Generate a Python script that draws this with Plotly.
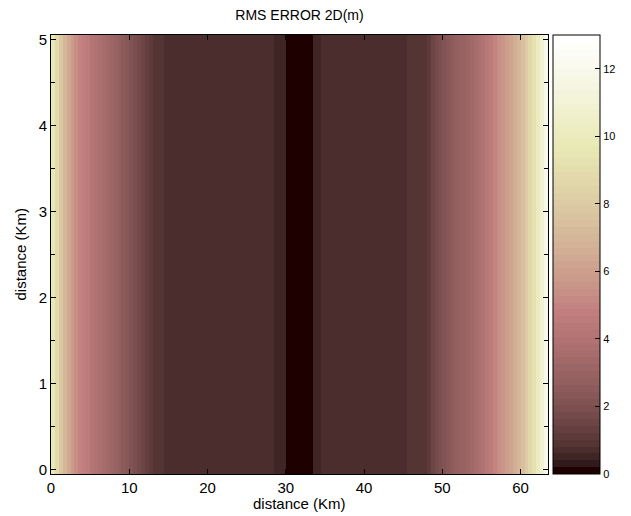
import numpy as np
import plotly.graph_objects as go

# ---- data ----
x_step_km = 0.5
y_km = [round(0.1 * i, 1) for i in range(51)]          # row centres 0..5 km
profile_left = [9.6, 8.8, 7.8, 7.0, 6.3, 5.8, 5.3, 5.0, 4.7, 4.5, 4.2, 4.0, 3.7, 3.5, 3.3,
                3.1, 2.9, 2.7, 2.6, 2.4, 2.2, 1.95, 1.7, 1.45, 1.25, 1.05, 0.95, 0.88, 0.85, 0.8]
profile_mid_left = [0.75, 0.72, 0.78, 0.7, 0.74, 0.68, 0.76, 0.72, 0.7, 0.75, 0.69, 0.73, 0.71,
                    0.77, 0.7, 0.72, 0.68, 0.74, 0.7, 0.73, 0.71, 0.69, 0.75, 0.7, 0.72, 0.68, 0.66]
profile_inner_left = [0.55, 0.5, 0.45]
profile_centre = [0.1, 0.1, 0.12, 0.1, 0.1, 0.12, 0.1]
profile_inner_right = [0.45, 0.55]
profile_mid_right = [0.7, 0.72, 0.68, 0.74, 0.7, 0.73, 0.71, 0.69, 0.75, 0.7, 0.72, 0.68, 0.74,
                     0.7, 0.76, 0.72, 0.7, 0.73, 0.69, 0.75, 0.71, 0.74]
profile_right = [0.85, 0.9, 0.92, 0.95, 1.0, 1.2, 1.5, 1.8, 2.0, 2.2, 2.4, 2.6, 2.8, 2.9, 3.0,
                 3.2, 3.4, 3.6, 3.8, 4.0, 4.3, 4.6, 5.0, 5.3, 5.6, 5.9, 6.2, 6.5, 7.0, 7.5,
                 8.0, 8.6, 9.3, 10.0, 10.8, 11.8]
x_ticks = [0, 10, 20, 30, 40, 50, 60]
y_ticks = [0, 1, 2, 3, 4, 5]
cbar_ticks = [0, 2, 4, 6, 8, 10, 12]
z_max = 13.0

profile = (profile_left + profile_mid_left + profile_inner_left + profile_centre
           + profile_inner_right + profile_mid_right + profile_right)
x_km = [x_step_km * (i + 0.5) for i in range(len(profile))]
z = [profile[:] for _ in y_km]

# ---- MATLAB "pink" colormap, 64 discrete levels ----
n = 64
k = np.arange(n)
gray = k / (n - 1)
n1 = 24
r_h = np.clip((k + 1) / n1, 0, 1)
g_h = np.clip((k + 1 - n1) / n1, 0, 1)
b_h = np.clip((k + 1 - 2 * n1) / (n - 2 * n1), 0, 1)
R = np.sqrt((2 * gray + r_h) / 3)
G = np.sqrt((2 * gray + g_h) / 3)
B = np.sqrt((2 * gray + b_h) / 3)
cols = ["rgb(%d,%d,%d)" % (round(255 * r), round(255 * g), round(255 * b)) for r, g, b in zip(R, G, B)]
colorscale = []
for i, c in enumerate(cols):
    colorscale.append([i / n, c])
    colorscale.append([(i + 1) / n, c])

font = "Liberation Sans, Arial, sans-serif"

# figure offset by the page's default 8px body margin
W, H = 615, 508
ML, MT, PW, PH = 43, 27, 497, 439

fig = go.Figure(go.Heatmap(
    x=x_km, y=y_km, z=z,
    zmin=0, zmax=z_max,
    colorscale=colorscale,
    colorbar=dict(
        x=1 + 4.6 / PW, xanchor="left", xpad=0,
        y=0.5, yanchor="middle", ypad=0,
        len=1, lenmode="fraction",
        thickness=47, thicknessmode="pixels",
        outlinewidth=1, outlinecolor="black",
        tickvals=cbar_ticks, ticks="inside", ticklen=5, tickcolor="black",
        tickfont=dict(family=font, size=11, color="black"),
    ),
))

fig.update_layout(
    width=W, height=H,
    margin=dict(l=ML, r=W - ML - PW, t=MT, b=H - MT - PH, autoexpand=False),
    paper_bgcolor="white", plot_bgcolor="white",
    title=dict(text="RMS ERROR 2D(m)", x=(ML + PW / 2) / W, xanchor="center",
               y=1 - 7 / H, yanchor="middle",
               font=dict(family=font, size=14, color="black")),
    font=dict(family=font, color="black"),
    annotations=[
        dict(text="distance (Km)", xref="paper", yref="paper", x=0.5, y=-29 / PH,
             xanchor="center", yanchor="middle", showarrow=False,
             font=dict(family=font, size=15, color="black")),
        dict(text="distance (Km)", xref="paper", yref="paper", x=-31 / PW, y=0.5,
             xanchor="center", yanchor="middle", showarrow=False, textangle=-90,
             font=dict(family=font, size=15, color="black")),
    ],
)
fig.update_xaxes(
    range=[0, 63.5], tickvals=x_ticks, ticks="inside", ticklen=5, tickcolor="black",
    showline=True, linecolor="black", linewidth=1, mirror="ticks",
    showgrid=False, zeroline=False, automargin=False,
    tickfont=dict(family=font, size=15, color="black"),
)
fig.update_yaxes(
    range=[-0.05, 5.05], tickvals=y_ticks, ticks="inside", ticklen=5, tickcolor="black",
    minor=dict(dtick=0.5, ticks="inside", ticklen=4, tickcolor="black"),
    showline=True, linecolor="black", linewidth=1, mirror="ticks",
    showgrid=False, zeroline=False, automargin=False,
    tickfont=dict(family=font, size=15, color="black"),
)

fig.write_html("out.html")
